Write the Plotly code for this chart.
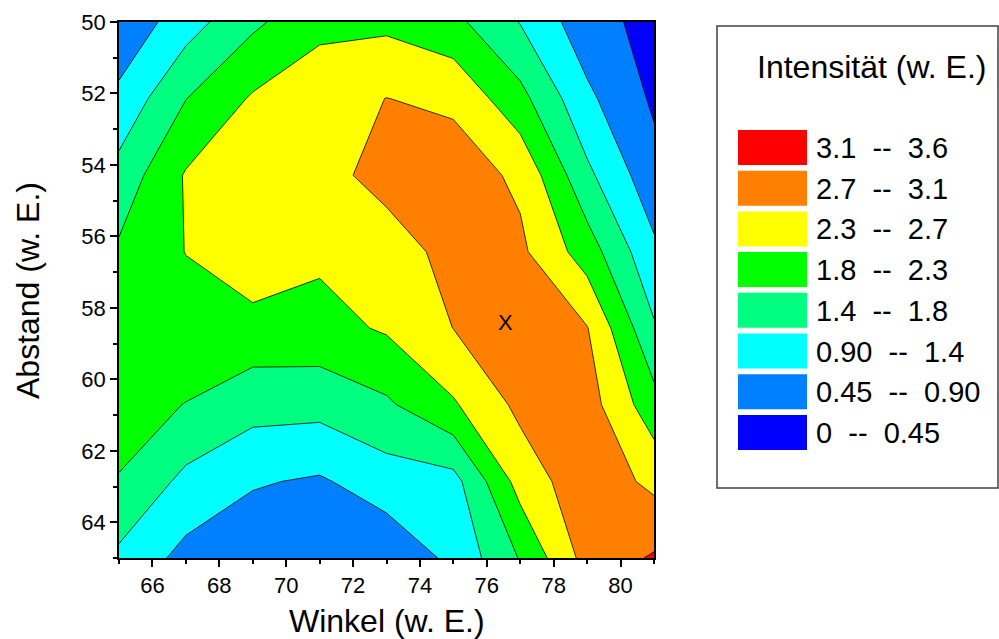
import plotly.graph_objects as go

# ---------------- data ----------------
winkel = [65, 67, 69, 71, 73, 75, 77, 79, 81]
abstand = [50.0, 52.14, 54.29, 56.43, 58.57, 60.71, 62.86, 65.0]
intensity = [
    [0.55, 1.15, 1.71, 2.13, 2.15, 1.92, 1.33, 0.63, 0.30],
    [1.01, 1.79, 2.30, 2.53, 2.705, 2.61, 1.94, 0.994, 0.38],
    [1.51, 2.29, 2.50, 2.60, 2.80, 2.94, 2.61, 1.45, 0.606],
    [1.87, 2.26, 2.57, 2.33, 2.56, 2.795, 2.79, 2.03, 0.99],
    [2.00, 2.05, 2.09, 2.10, 2.30, 2.705, 3.05, 2.72, 1.40],
    [1.95, 1.79, 1.52, 1.50, 1.73, 2.20, 2.81, 2.90, 1.97],
    [1.78, 1.23, 0.94, 0.845, 1.13, 1.19, 2.43, 3.00, 2.59],
    [1.25, 0.76, 0.60, 0.55, 0.57, 1.00, 1.83, 2.87, 3.20],
]
level_start = 0.0
level_size = 0.45
level_end = 3.6
band_colors = ["#0000FF", "#0080FF", "#00FFFF", "#00FF80",
               "#00FF00", "#FFFF00", "#FF8000", "#FF0000"]
band_labels = ["0  --  0.45", "0.45  --  0.90", "0.90  --  1.4", "1.4  --  1.8",
               "1.8  --  2.3", "2.3  --  2.7", "2.7  --  3.1", "3.1  --  3.6"]
marker_x, marker_y, marker_text = 76.55, 58.4, "X"
x_title = "Winkel (w. E.)"
y_title = "Abstand (w. E.)"
legend_title = "Intensität (w. E.)"

FONT = "Liberation Sans, Arial, sans-serif"

# stepped colour scale: plotly evaluates fills at band centres
n_levels = 9
cscale = [[0.0, band_colors[0]]]
for k in range(len(band_colors) - 1):
    b = (k + 1.5) / n_levels
    cscale += [[b, band_colors[k]], [b, band_colors[k + 1]]]
cscale += [[1.0, band_colors[-1]]]

fig = go.Figure()
fig.add_trace(go.Contour(
    x=winkel, y=abstand, z=intensity,
    autocontour=False,
    contours=dict(start=level_start, end=level_end + 1e-4, size=level_size,
                  coloring="fill", showlines=True),
    colorscale=cscale, showscale=False,
    line=dict(color="black", width=0.8, smoothing=0),
    hoverinfo="skip",
))

fig.add_annotation(x=marker_x, y=marker_y, text=marker_text, showarrow=False,
                   font=dict(family=FONT, size=22, color="black"))

# ---------------- layout ----------------
W, H = 999, 639
L, R, T, B = 119, 345, 22, 81
pw, ph = W - L - R, H - T - B


def px(xp):
    return (xp - L) / pw


def py(yp):
    return (H - B - yp) / ph


axis_common = dict(
    showgrid=False, zeroline=False, showline=True, linecolor="black", linewidth=1.5,
    mirror=True, ticks="outside", ticklen=7, tickwidth=1.5, tickcolor="black",
    tickfont=dict(family=FONT, size=22, color="black"), automargin=False,
    minor=dict(dtick=1, ticks="outside", ticklen=4, tickwidth=1.5, tickcolor="black"),
)

fig.update_layout(
    width=W, height=H,
    margin=dict(l=L, r=R, t=T, b=B, pad=0, autoexpand=False),
    paper_bgcolor="white", plot_bgcolor="white",
    font=dict(family=FONT, color="black"),
    xaxis=dict(range=[65, 81], dtick=2, tick0=0, **axis_common),
    yaxis=dict(range=[65, 50], dtick=2, tick0=0, **axis_common),
    showlegend=False,
)

annotations = [
    dict(xref="paper", yref="paper", x=0.5, y=py(621), text=x_title, showarrow=False,
         xanchor="center", yanchor="middle", font=dict(family=FONT, size=32, color="black")),
    dict(xref="paper", yref="paper", x=px(28), y=0.5, text=y_title, showarrow=False,
         textangle=-90, xanchor="center", yanchor="middle",
         font=dict(family=FONT, size=32, color="black")),
]

# legend box
shapes = [dict(type="rect", xref="paper", yref="paper",
               x0=px(717), x1=px(998), y0=py(488), y1=py(26),
               line=dict(color="#404040", width=1.5), fillcolor="rgba(0,0,0,0)")]
annotations.append(dict(xref="paper", yref="paper", x=px(871), y=py(67),
                        text=legend_title, showarrow=False,
                        xanchor="center", yanchor="middle",
                        font=dict(family=FONT, size=32, color="black")))
top0 = 130
step = 40.7
for i, k in enumerate(reversed(range(len(band_colors)))):
    yt = top0 + i * step
    shapes.append(dict(type="rect", xref="paper", yref="paper",
                       x0=px(738), x1=px(807), y0=py(yt + 35), y1=py(yt),
                       line=dict(width=0), fillcolor=band_colors[k]))
    annotations.append(dict(xref="paper", yref="paper", x=px(814), y=py(yt + 18),
                            text=band_labels[k].replace(" ", "\u00a0"), showarrow=False,
                            xanchor="left", yanchor="middle",
                            font=dict(family=FONT, size=29, color="black")))

fig.update_layout(shapes=shapes)
for a in annotations:
    fig.add_annotation(**a)

fig.write_html("out.html")
